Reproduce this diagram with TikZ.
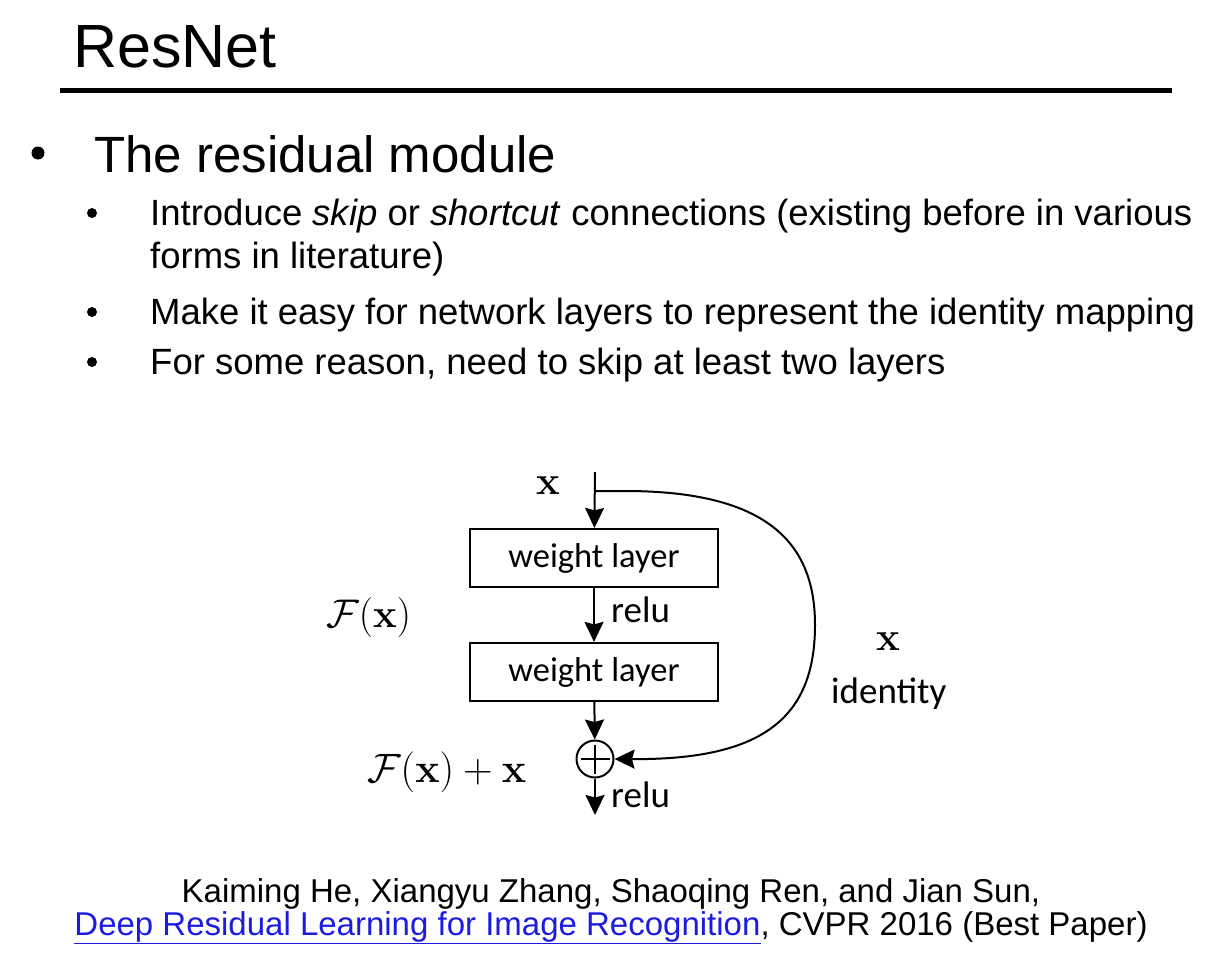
\RequirePackage{fix-cm}
\documentclass[tikz,border=0pt]{standalone}
\usepackage[no-math]{fontspec}
\setmainfont{Liberation Sans}
\newfontfamily\carl{Carlito}
\usetikzlibrary{arrows.meta}
\definecolor{linkblue}{RGB}{28,28,225}
\tikzset{
  txt/.style={inner sep=0pt, anchor=base west},
  ctxt/.style={inner sep=0pt, anchor=base},
  layer/.style={draw, line width=2.2pt, minimum width=248pt, minimum height=58pt, inner sep=0pt,
    font=\carl\fontsize{34.5}{40}\selectfont},
  flowline/.style={line width=2pt, -{Stealth[length=20pt,width=19pt,inset=2.5pt]}},
  dlabel/.style={txt, font=\carl\fontsize{37}{44}\selectfont},
  mlabel/.style={inner sep=0pt, font=\fontsize{40}{48}\selectfont},
}
\begin{document}
\begin{tikzpicture}[x=1pt,y=-1pt]
\useasboundingbox (0,0) rectangle (1218,969);
% title
\node[txt, font=\fontsize{61}{70}\selectfont] (title) at (73,67) {ResNet};
\coordinate (ruleL) at (60,90);
\coordinate (ruleR) at (1172,90);
\draw[line width=5pt] (ruleL) -- (ruleR);
% bullets
\fill (38,153) circle (6.5);
\node[txt, font=\fontsize{51}{60}\selectfont] (b0) at (94,172) {The residual module};
\fill (92,213) circle (5);
\fill (92,312) circle (5);
\fill (92,362) circle (5);
\begin{scope}[every node/.style={txt, font=\fontsize{36.5}{42}\selectfont}]
\node (b1) at (150,225) {Introduce \textit{skip} or \textit{shortcut} connections (existing before in various};
\node (b1b) at (150,268) {forms in literature)};
\node (b2) at (150,324) {Make it easy for network layers to represent the identity mapping};
\node (b3) at (150,374) {For some reason, need to skip at least two layers};
\end{scope}
% diagram
\node[mlabel, anchor=base] (xin) at (548,494) {$\mathbf{x}$};
\coordinate (top) at (595,472);
\coordinate (sk) at (595,491);
\node[layer] (w1) at (594,558) {weight layer};
\node[layer] (w2) at (594,672) {weight layer};
\node[circle, draw, line width=2pt, minimum size=37pt, inner sep=0pt] (add) at (595,759) {};
\draw[line width=2pt] ([xshift=5pt]add.west) -- ([xshift=-5pt]add.east);
\draw[line width=2pt] ([yshift=-5pt]add.north) -- ([yshift=5pt]add.south);
\coordinate (out) at (595,815);
\draw[flowline] (top) -- (w1);
\draw[flowline] (w1) -- (w2);
\draw[flowline] (w2) -- (add);
\draw[flowline] (add) -- (out);
\draw[flowline] (sk) -- (625,491) .. controls (770,491) and (815,545) .. (815,625)
  .. controls (815,720) and (760,760) .. (add.east);
\node[dlabel] (r1) at (611,622) {relu};
\node[dlabel] (r2) at (611,807) {relu};
\node[mlabel, anchor=base west] (fx) at (326,627) {$\mathcal{F}(\mathbf{x})$};
\node[inner sep=0pt, anchor=base west, font=\fontsize{41}{48}\selectfont] (fxx) at (367,782) {$\mathcal{F}(\mathbf{x}) + \mathbf{x}$};
\node[mlabel, anchor=base] (xid) at (888,650) {$\mathbf{x}$};
\node[dlabel] (ident) at (831,703) {identity};
% citation
\node[ctxt, font=\fontsize{33}{40}\selectfont] (c1) at (611,902) {Kaiming He, Xiangyu Zhang, Shaoqing Ren, and Jian Sun,};
\node[ctxt, font=\fontsize{33}{40}\selectfont] (c2) at (611,935) {\textcolor{linkblue}{\underline{Deep Residual Learning for Image Recognition}}, CVPR 2016 (Best Paper)};
\end{tikzpicture}
\end{document}
